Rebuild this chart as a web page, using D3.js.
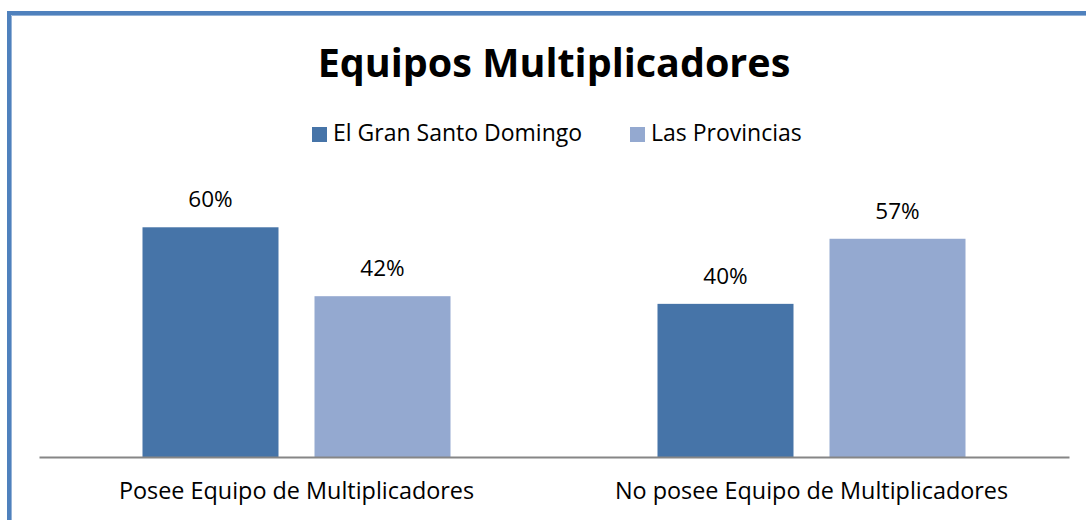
<!DOCTYPE html>
<html>
<head>
<meta charset="utf-8">
<script src="https://d3js.org/d3.v7.min.js"></script>
<style>
  body { margin: 0; background: #fff; }
  text { font-family: "Open Sans", Lato, sans-serif; fill: #000; }
</style>
</head>
<body>
<svg id="viz"></svg>
<script>

// the data
var categories = ["Posee Equipo de Multiplicadores", "No posee Equipo de Multiplicadores"];
var series = ["El Gran Santo Domingo", "Las Provincias"];
var granSantoDomingo = [0.60, 0.40];
var provincias = [0.42, 0.57];
var colors = ["#4674a8", "#94a9d0"];

var values = [granSantoDomingo, provincias];

// set up the svg
var w = 1086;
var h = 520;
var svg = d3.select("#viz").attr("width", w).attr("height", h);

// frame (blue border on the top and left side)
svg.append("path")
	.attr("d", "M9,520 V13 H1086")
	.attr("fill", "none")
	.attr("stroke", "#4f81bd")
	.attr("stroke-width", 4);
svg.append("path")
	.attr("d", "M11.5,520 V15.5 H1086")
	.attr("fill", "none")
	.attr("stroke", "#95b3d7")
	.attr("stroke-width", 1);

// scales
var x0 = d3.scaleBand().domain(categories).range([39, 1069]);
var x1 = d3.scaleBand().domain(series).range([0, x0.bandwidth()])
	.paddingInner(0.2093).paddingOuter(0.6017);
var y = d3.scaleLinear().domain([0, 0.7]).range([457, 189]);

// title
svg.append("text")
	.attr("x", 554).attr("y", 77)
	.attr("text-anchor", "middle")
	.attr("font-size", 39.5)
	.attr("font-weight", "bold")
	.text("Equipos Multiplicadores");

// legend
var legend = svg.append("g");
var legendX = [312, 630];
series.forEach(function(s, i) {
	legend.append("rect")
		.attr("x", legendX[i]).attr("y", 127)
		.attr("width", 15).attr("height", 15)
		.attr("fill", colors[i]);
	legend.append("text")
		.attr("x", legendX[i] + 21).attr("y", 141)
		.attr("font-size", 23)
		.text(s);
});

// the bars
var groups = svg.selectAll("g.cat")
	.data(categories)
	.enter().append("g")
	.attr("class", "cat")
	.attr("transform", function(d) { return "translate(" + x0(d) + ",0)"; });

groups.selectAll("rect")
	.data(function(d, ci) {
		return series.map(function(s, si) { return {s: s, si: si, v: values[si][ci]}; });
	})
	.enter().append("rect")
	.attr("x", function(d) { return x1(d.s); })
	.attr("y", function(d) { return y(d.v); })
	.attr("width", x1.bandwidth())
	.attr("height", function(d) { return y(0) - y(d.v); })
	.attr("fill", function(d) { return colors[d.si]; });

// data labels
groups.selectAll("text.lbl")
	.data(function(d, ci) {
		return series.map(function(s, si) { return {s: s, si: si, v: values[si][ci]}; });
	})
	.enter().append("text")
	.attr("class", "lbl")
	.attr("x", function(d) { return x1(d.s) + x1.bandwidth() / 2; })
	.attr("y", function(d) { return y(d.v) - 20; })
	.attr("text-anchor", "middle")
	.attr("font-size", 22.5)
	.text(function(d) { return d3.format(".0%")(d.v); });

// x axis
var xAxis = svg.append("g")
	.attr("transform", "translate(0," + y(0) + ")")
	.call(d3.axisBottom(x0).tickSize(0).tickPadding(25));
xAxis.select(".domain").attr("stroke", "#868686").attr("stroke-width", 2);
xAxis.selectAll(".tick text")
	.attr("font-size", 23.4)
	.attr("font-family", "'Open Sans', sans-serif")
	.attr("fill", "#000");

</script>
</body>
</html>
